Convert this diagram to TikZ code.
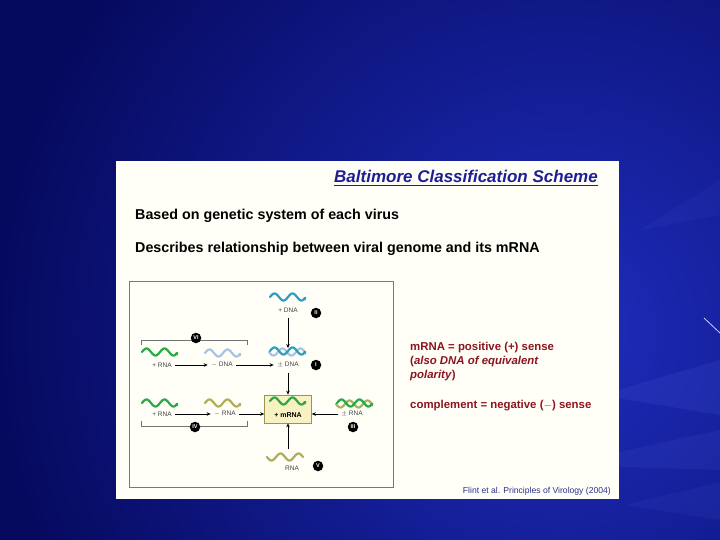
\documentclass[tikz,border=0pt]{standalone}
\usepackage{fontspec}
\setmainfont{Liberation Sans}
\usetikzlibrary{arrows.meta}
\definecolor{bgdark}{RGB}{6,10,95}
\definecolor{bgmid}{RGB}{18,26,160}
\definecolor{bglight}{RGB}{30,45,190}
\definecolor{streak}{RGB}{70,90,215}
\definecolor{titleblue}{RGB}{30,30,150}
\definecolor{darkred}{RGB}{140,20,30}
\definecolor{citeblue}{RGB}{40,50,140}
\definecolor{dnablue}{RGB}{40,160,200}
\definecolor{mdnablue}{RGB}{170,195,225}
\definecolor{rnagreen}{RGB}{40,170,70}
\definecolor{rnaolive}{RGB}{175,175,90}
\definecolor{boxyellow}{RGB}{248,242,195}
\definecolor{boxedge}{RGB}{150,150,80}
\definecolor{framegray}{RGB}{120,120,120}
\tikzset{
  lbl/.style={font=\fontsize{6.5}{7}\selectfont, text=black!75, inner sep=0.5pt},
  numc/.style={circle, fill=black, text=white, inner sep=0pt, minimum size=10.5pt,
     font=\fontsize{5.5}{6}\selectfont\bfseries\rmfamily},
  conn/.style={-{Stealth[length=4pt,width=3.5pt]}, line width=0.7pt, black},
  brk/.style={line width=0.5pt, black!55},
  rtext/.style={font=\fontsize{11.4}{13}\selectfont\bfseries, text=darkred, anchor=west, inner sep=0pt},
  head/.style={font=\fontsize{14.3}{16}\selectfont\bfseries, anchor=west, inner sep=0pt},
  pics/wave/.style={code={
     \draw[line width=2.2pt, #1, line cap=round, -{Stealth[length=3pt,width=4pt]}]
       plot[domain=0:720, samples=60, smooth] ({\x/20}, {-3.5*sin(\x)});}},
  pics/wavep/.style={code={
     \draw[line width=2.2pt, #1, line cap=round]
       plot[domain=0:720, samples=60, smooth] ({\x/20}, {3.5*sin(\x)});}}
}
\begin{document}
\begin{tikzpicture}[x=1pt, y=-1pt]
\useasboundingbox (0,0) rectangle (720,540);
% background
\begin{scope}
\clip (0,0) rectangle (720,540);
\fill[bgdark] (0,0) rectangle (720,540);
\shade[inner color=bglight, outer color=bgdark] (560,330) circle (560);
\fill[streak, opacity=0.18] (720,360) -- (600,395) -- (720,415) -- cycle;
\fill[streak, opacity=0.15] (720,430) -- (560,465) -- (720,470) -- cycle;
\fill[streak, opacity=0.12] (625,505) -- (720,482) -- (720,520) -- cycle;
\fill[streak, opacity=0.10] (720,180) -- (640,230) -- (720,215) -- cycle;
\draw[white!80!blue, line width=0.8pt] (704,318) -- (720,333);
\end{scope}
% white panel
\fill[white!97!yellow] (116,161) rectangle (619,499);
% title & headings
\node[font=\fontsize{17}{19}\selectfont\bfseries\itshape, text=titleblue, inner sep=0pt] (title) at (466,176) {Baltimore Classification Scheme};
\draw[titleblue, line width=1.3pt] ([yshift=-3.2pt]title.base west) -- ([yshift=-3.2pt]title.base east);
\node[head] (h1) at (135,216) {Based on genetic system of each virus};
\node[head] (h2) at (135,249) {Describes relationship between viral genome and its mRNA};
% diagram frame
\draw[framegray, line width=0.8pt] (129,281) rectangle (393,487);
% II : +DNA
\pic at (270,297) {wave=dnablue};
\node[lbl] (pdna) at (288,310) {+ DNA};
\node[numc] (cII) at (316,313) {II};
% I : +/-DNA
\pic at (269,352) {wavep=mdnablue};
\pic at (270,351) {wave=dnablue};
\node[lbl] (pmdna) at (288,365) {$\pm$ DNA};
\node[numc] (cI) at (316,365) {I};
% mRNA box
\node[draw=boxedge, fill=boxyellow, minimum width=47pt, minimum height=28pt, line width=0.7pt] (mbox) at (288,409) {};
\pic at (270,401) {wave=rnagreen};
\node[font=\fontsize{7}{8}\selectfont\bfseries, inner sep=0.5pt] (mrna) at (288,415) {+ mRNA};
% arrows down
\draw[conn] ([yshift=-5pt]pdna.south) -- ([yshift=-5pt]pdna.south |- 0,343);
\draw[conn] ([yshift=-5pt]pmdna.south) -- (mbox.north);
% VI row
\pic at (142,352) {wave=rnagreen};
\node[lbl] (prna6) at (162,365) {+ RNA};
\pic at (205,353) {wave=mdnablue};
\node[lbl] (mdna6) at (222,365) {$-$ DNA};
\draw[conn] ([xshift=3pt]prna6.east) -- ([xshift=-3pt]prna6.east -| mdna6.west);
\draw[conn] ([xshift=3pt]mdna6.east) -- ([xshift=-3pt]mdna6.east -| pmdna.west);
\draw[brk] (141,345) -- (141,340) -- (247,340) -- (247,345);
\node[numc] (cVI) at (196,338) {VI};
% IV row
\pic at (142,403) {wave=rnagreen};
\node[lbl] (prna4) at (162,414) {+ RNA};
\pic at (205,403) {wave=rnaolive};
\node[lbl] (mrna4) at (225,414) {$-$ RNA};
\draw[conn] ([xshift=3pt]prna4.east) -- ([xshift=-3pt]prna4.east -| mrna4.west);
\draw[conn] ([xshift=3pt]mrna4.east) -- (mrna4.east -| mbox.west);
\draw[brk] (141,421) -- (141,426) -- (247,426) -- (247,421);
\node[numc] (cIV) at (195,427) {IV};
% III
\pic at (336,404) {wavep=rnaolive};
\pic at (337,403) {wave=rnagreen};
\node[lbl] (pmrna) at (352,414) {$\pm$ RNA};
\node[numc] (cIII) at (353,427) {III};
\draw[conn] ([xshift=-3pt]pmrna.west) -- (pmrna.west -| mbox.east);
% V
\pic at (267,457) {wavep=rnaolive};
\node[lbl] (rna5) at (292,468) {RNA};
\node[numc] (cV) at (318,466) {V};
\coordinate (v5) at (mbox.south |- 0,449);
\draw[conn] (v5) -- (mbox.south);
% right text
\node[rtext] (t1) at (410,348) {mRNA = positive (+) sense};
\node[rtext] (t2) at (410,362) {(\textit{also DNA of equivalent}};
\node[rtext] (t3) at (410,376) {\textit{polarity})};
\node[rtext] (t4) at (410,406) {complement = negative ($-$) sense};
% citation
\node[font=\fontsize{8.6}{9}\selectfont, text=citeblue, anchor=east, inner sep=0pt] (cite) at (611,491) {Flint et al. Principles of Virology (2004)};
\end{tikzpicture}
\end{document}
